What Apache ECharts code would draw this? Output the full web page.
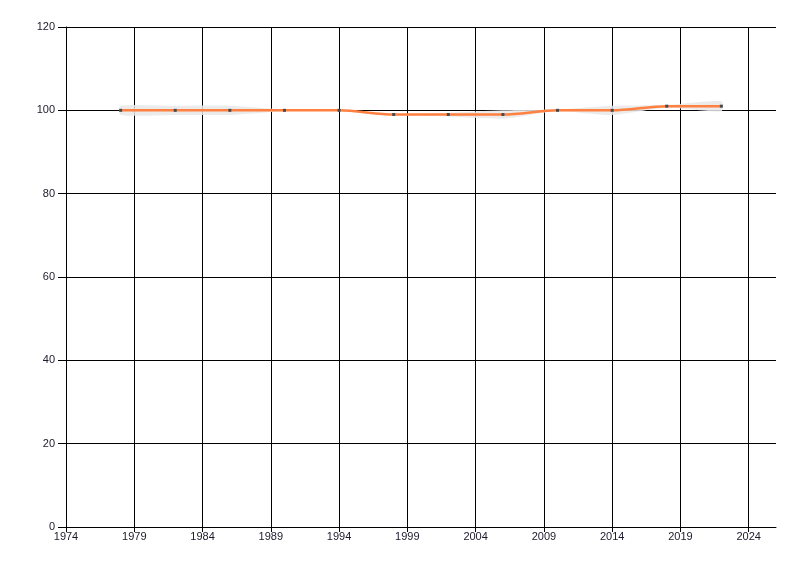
<!DOCTYPE html>
<html>
<head>
<meta charset="utf-8">
<script src="https://cdn.jsdelivr.net/npm/echarts@6/dist/echarts.min.js"></script>
<style>
  html, body { margin: 0; padding: 0; background: #fff; }
  #chart { width: 800px; height: 576px; }
</style>
</head>
<body>
<div id="chart"></div>
<script>
  // survey years and values
  const years = [1978, 1982, 1986, 1990, 1994, 1998, 2002, 2006, 2010, 2014, 2018, 2022]
  const values = [100, 100, 100, 100, 100, 99, 99, 99, 100, 100, 101, 101]
  // grey uncertainty band around the line
  const bandLow = [98.9, 98.9, 98.9, 99.8, 99.8, 98.8, 98.5, 98.0, 99.8, 98.9, 100.6, 99.8]
  const bandHigh = [101.1, 101.1, 101.1, 100.2, 100.2, 99.2, 99.4, 100.0, 100.2, 101.1, 101.3, 102.2]
  // x tick labels (axis runs on to 2026 without a tick there)
  const tickYears = [1974, 1979, 1984, 1989, 1994, 1999, 2004, 2009, 2014, 2019, 2024]

  const chart = echarts.init(document.getElementById('chart'))

  const labelStyle = { color: '#1a1a2a', fontSize: 11, fontFamily: 'Liberation Sans, Arial, sans-serif' }
  const blackLine = { color: '#000', width: 1 }

  // band drawn as one smooth polygon: upper edge forward, lower edge back
  const renderBand = (params, api) => {
    if (params.dataIndex !== 0) return null
    const upper = years.map((y, i) => api.coord([y, bandHigh[i]]))
    const lower = years.map((y, i) => api.coord([y, bandLow[i]])).reverse()
    return {
      type: 'polygon',
      shape: { points: upper.concat(lower), smooth: 0.25 },
      style: { fill: 'rgba(232,232,232,0.85)' },
      silent: true
    }
  }

  const option = {
    animation: false,
    backgroundColor: '#fff',
    grid: { left: 66, right: 24, top: 27, bottom: 49 },
    xAxis: {
      type: 'value',
      min: 1974,
      max: 2026,
      interval: 5,
      axisLine: { show: true, lineStyle: blackLine },
      axisTick: { show: true, length: 5, lineStyle: blackLine, customValues: tickYears },
      axisLabel: Object.assign({ margin: 4, customValues: tickYears, formatter: v => String(v) }, labelStyle),
      splitLine: { show: true, lineStyle: blackLine }
    },
    yAxis: {
      type: 'value',
      min: 0,
      max: 120,
      interval: 20,
      axisLine: { show: true, lineStyle: blackLine },
      axisTick: { show: true, length: 8, lineStyle: blackLine },
      axisLabel: Object.assign({ margin: 11 }, labelStyle),
      splitLine: { show: true, lineStyle: blackLine }
    },
    series: [
      {
        type: 'custom',
        renderItem: renderBand,
        data: years.map((y, i) => [y, bandLow[i], bandHigh[i]]),
        encode: { x: 0, y: [1, 2] },
        z: 3
      },
      {
        type: 'line',
        data: years.map((y, i) => [y, values[i]]),
        smooth: 0.3,
        symbol: 'rect',
        symbolSize: 3,
        itemStyle: { color: '#4a4a4a' },
        lineStyle: { color: '#ff8040', width: 2.5 },
        z: 5
      }
    ]
  }
  chart.setOption(option)
</script>
</body>
</html>
